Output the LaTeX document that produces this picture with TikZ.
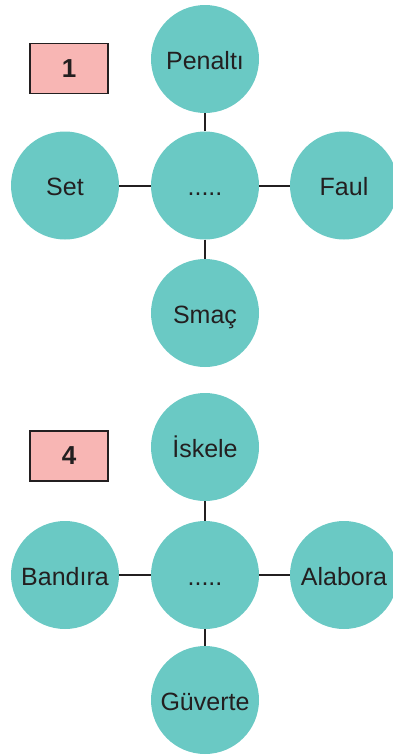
\documentclass[tikz,border=0pt]{standalone}
\usepackage{fontspec}
\setmainfont{Liberation Sans}
\definecolor{teal1}{HTML}{6AC9C4}
\definecolor{pinkbox}{HTML}{F8B6B4}
\definecolor{ink}{HTML}{231F20}
\begin{document}
\begin{tikzpicture}[x=1pt,y=-1pt,
  bub/.style={circle,fill=teal1,minimum size=108pt,inner sep=0pt,text=ink,text height=24pt,text depth=4pt,font=\fontsize{25}{28}\selectfont},
  numbox/.style={draw=ink,line width=1.2pt,fill=pinkbox,minimum width=78pt,minimum height=50pt,inner sep=0pt,text=ink,font=\fontsize{26}{28}\selectfont\bfseries},
  link/.style={draw=ink,line width=2pt}]
\useasboundingbox (0,0) rectangle (393,755);
% group 1
\node[numbox] (b1) at (69,68.5) {1};
\node[bub] (c1) at (205,185.5) {.....};
\node[bub] (p1) at (205,59) {Penaltı};
\node[bub] (s1) at (65,185.5) {Set};
\node[bub] (f1) at (344,185.5) {Faul};
\node[bub] (m1) at (205,313) {Smaç};
\draw[link] (c1) -- (p1);
\draw[link] (c1) -- (s1);
\draw[link] (c1) -- (f1);
\draw[link] (c1) -- (m1);
% group 2
\node[numbox] (b2) at (69,456) {4};
\node[bub] (c2) at (205,575) {.....};
\node[bub] (p2) at (205,447) {İskele};
\node[bub] (s2) at (65,575) {Bandıra};
\node[bub] (f2) at (344,575) {Alabora};
\node[bub] (m2) at (205,700) {Güverte};
\draw[link] (c2) -- (p2);
\draw[link] (c2) -- (s2);
\draw[link] (c2) -- (f2);
\draw[link] (c2) -- (m2);
\end{tikzpicture}
\end{document}
